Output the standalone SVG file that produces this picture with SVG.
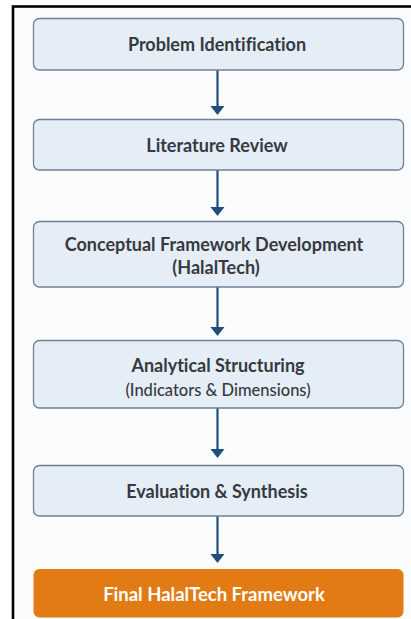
<svg xmlns="http://www.w3.org/2000/svg" width="411" height="619" viewBox="0 0 411 619">
<style>
text{font-variant-ligatures:none;font-family:Lato,"Open Sans","Liberation Sans",sans-serif;text-anchor:middle}
.box{fill:#e5edf6;stroke:#6f8196;stroke-width:1.3}
.t{font-weight:bold;font-size:18px;fill:#363a40}
.s{font-weight:500;font-size:16.5px;fill:#363a40}
.w{font-weight:bold;font-size:18.5px;fill:#ffffff}
.c{stroke:#1f4e79;stroke-width:2.2;fill:none}
.h{fill:#1f4e79}
</style>
<rect x="0" y="0" width="411" height="619" fill="#ffffff"/>
<rect x="13" y="6.5" width="410" height="620" fill="#fbfcfd" stroke="#000" stroke-width="2.6"/>
<g id="connectors">
<line class="c" x1="217.5" y1="70" x2="217.5" y2="107"/><polygon class="h" points="210.5,106 224.5,106 217.5,115"/>
<line class="c" x1="217.5" y1="170" x2="217.5" y2="208"/><polygon class="h" points="210.5,207 224.5,207 217.5,216"/>
<line class="c" x1="217.5" y1="287" x2="217.5" y2="328"/><polygon class="h" points="210.5,327 224.5,327 217.5,336"/>
<line class="c" x1="217.5" y1="408" x2="217.5" y2="450"/><polygon class="h" points="210.5,449 224.5,449 217.5,458"/>
<line class="c" x1="217.5" y1="516" x2="217.5" y2="555"/><polygon class="h" points="210.5,554 224.5,554 217.5,563"/>
</g>
<g id="n1"><rect class="box" x="33.5" y="18.5" width="370" height="51.5" rx="6"/><text class="t" x="217" y="51">Problem Identification</text></g>
<g id="n2"><rect class="box" x="33.5" y="119.5" width="370" height="50.5" rx="6"/><text class="t" x="217" y="152">Literature Review</text></g>
<g id="n3"><rect class="box" x="33.5" y="221.5" width="370" height="65.5" rx="6"/><text class="t" x="214" y="251">Conceptual Framework Development</text><text class="t" x="216" y="274">(HalalTech)</text></g>
<g id="n4"><rect class="box" x="33.5" y="340.5" width="370" height="67.5" rx="6"/><text class="t" x="218" y="372">Analytical Structuring</text><text class="s" x="218" y="396">(Indicators &amp; Dimensions)</text></g>
<g id="n5"><rect class="box" x="33.5" y="465.5" width="370" height="50.5" rx="6"/><text class="t" x="217" y="498">Evaluation &amp; Synthesis</text></g>
<g id="n6"><rect x="33.5" y="569" width="370" height="48.5" rx="6" fill="#e27b13"/><text class="w" x="214" y="601">Final HalalTech Framework</text></g>
</svg>
